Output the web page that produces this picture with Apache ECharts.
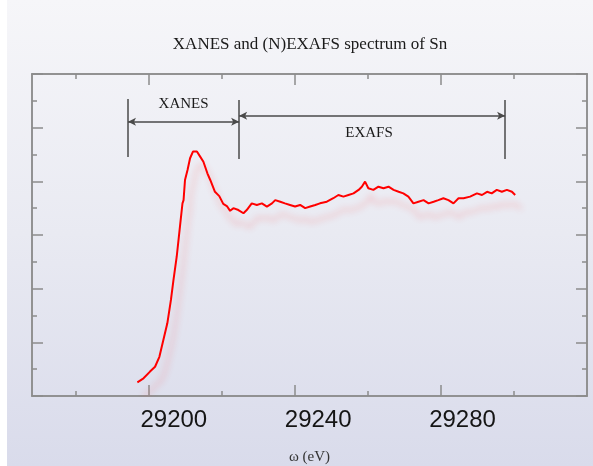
<!DOCTYPE html>
<html>
<head>
<meta charset="utf-8">
<script src="https://cdn.jsdelivr.net/npm/echarts@6/dist/echarts.min.js"></script>
<style>
html,body{margin:0;padding:0;}
#c{width:593px;height:466px;}
</style>
</head>
<body>
<div id="c"></div>
<script>
// ---- data ----
const energy = [29189.9,29191.6,29193.4,29194.8,29196.0,29197.1,29198.2,29199.2,29199.9,29200.8,29201.7,29202.4,29202.7,29203.1,29203.8,29204.5,29205.3,29206.4,29207.3,29208.2,29209.3,29210.1,29211.4,29212.6,29213.7,29214.7,29215.6,29216.5,29217.9,29219.3,29220.2,29221.6,29223.0,29224.4,29225.8,29227.2,29228.1,29229.5,29230.8,29232.2,29233.6,29235.0,29236.4,29237.8,29239.2,29240.5,29242.4,29244.2,29245.6,29247.0,29248.4,29249.8,29251.2,29252.1,29253.0,29253.9,29255.3,29256.7,29258.1,29259.5,29260.9,29262.3,29263.6,29265.0,29266.4,29267.8,29269.2,29270.6,29272.0,29273.3,29274.7,29276.1,29277.5,29278.9,29280.3,29282.1,29284.0,29285.4,29286.8,29288.1,29289.5,29290.9,29292.3,29293.7,29294.6];
const absorption = [0.51,0.66,0.91,1.09,1.46,2.09,2.71,3.58,4.32,5.19,6.31,7.18,7.30,8.05,8.42,8.86,9.11,9.11,8.92,8.73,8.30,8.05,7.61,7.45,7.16,7.08,6.90,7.00,6.93,6.81,6.93,7.18,7.12,7.18,7.06,7.18,7.30,7.24,7.18,7.12,7.06,7.12,7.00,7.06,7.12,7.18,7.24,7.37,7.49,7.43,7.49,7.55,7.68,7.80,7.99,7.74,7.68,7.80,7.74,7.80,7.68,7.61,7.55,7.43,7.18,7.24,7.30,7.18,7.24,7.30,7.37,7.30,7.18,7.37,7.37,7.43,7.55,7.49,7.61,7.55,7.68,7.61,7.68,7.61,7.49];
const xTickLabels = [29200, 29240, 29280];
const xMajorTicks = [29193.1, 29233.5, 29274.0];
const xMinorTicks = [29172.9, 29213.3, 29253.8, 29294.2];
const xRange = [29160.7, 29314.5];
const yRange = [0, 12];
// region markers: XANES from 29187.3 to 29218.1, EXAFS from 29218.1 to 29291.8
const regionBounds = [29187.3, 29218.1, 29291.8];
const regionNames = ['XANES', 'EXAFS'];

const seriesData = energy.map((e, i) => [e, absorption[i]]);

const axisGray = '#8c8c8c';
function xAx(pos, ticks, len) {
  return {
    type: 'value', position: pos, min: xRange[0], max: xRange[1],
    axisLine: { show: true, onZero: false, lineStyle: { color: axisGray, width: 1.5 } },
    axisTick: { show: true, inside: true, length: len, customValues: ticks, lineStyle: { color: axisGray, width: 1.5 } },
    axisLabel: { show: false },
    splitLine: { show: false }
  };
}
function yAx(pos, interval, len) {
  return {
    type: 'value', position: pos, min: yRange[0], max: yRange[1], interval: interval,
    axisLine: { show: true, onZero: false, lineStyle: { color: axisGray, width: 1.5 } },
    axisTick: { show: true, inside: true, length: len, lineStyle: { color: axisGray, width: 1.5 } },
    axisLabel: { show: false },
    splitLine: { show: false }
  };
}

const xMain = xAx('bottom', xMajorTicks, 11);
xMain.axisLabel = {
  show: true, customValues: xTickLabels, margin: 12,
  formatter: v => String(v),
  fontFamily: 'Liberation Sans', fontSize: 24, color: '#151515'
};
xMain.name = 'ω (eV)';
xMain.nameLocation = 'middle';
xMain.nameGap = 54;
xMain.nameTextStyle = { fontFamily: 'Liberation Serif', fontSize: 15, color: '#333' };

const chart = echarts.init(document.getElementById('c'));
const lineC = '#4a4a4a';
chart.setOption({
  animation: false,
  backgroundColor: {
    type: 'linear', x: 0, y: 0, x2: 0, y2: 1,
    colorStops: [
      { offset: 0, color: '#f6f6f9' },
      { offset: 0.5, color: '#e9eaf2' },
      { offset: 1, color: '#d9dbeb' }
    ]
  },
  graphic: [{
    type: 'rect', left: 0, top: 0, z: -10, silent: true,
    shape: { width: 7, height: 466 },
    style: { fill: '#ffffff' }
  }],
  title: {
    text: 'XANES and (N)EXAFS spectrum of Sn',
    left: 305, top: 31, textAlign: 'center',
    textStyle: { fontFamily: 'Liberation Serif', fontSize: 17, fontWeight: 'normal', color: '#1a1a1a' }
  },
  grid: { left: 32, right: 6, top: 74, bottom: 70, outerBoundsMode: 'none', containLabel: false },
  xAxis: [xMain, xAx('bottom', xMinorTicks, 5), xAx('top', xMajorTicks, 11), xAx('top', xMinorTicks, 5)],
  yAxis: [yAx('left', 2, 11), yAx('left', 1, 5), yAx('right', 2, 11), yAx('right', 1, 5)],
  series: [
    {
      type: 'line', data: seriesData, showSymbol: false, smooth: false,
      lineStyle: {
        color: '#ff0000', width: 2,
        shadowColor: 'rgba(255,70,70,0.3)', shadowBlur: 6, shadowOffsetX: 6, shadowOffsetY: 14
      },
      z: 5
    },
    {
      type: 'line', data: [], silent: true,
      markLine: {
        silent: true, animation: false,
        label: { show: false },
        lineStyle: { color: lineC, width: 1.5, type: 'solid' },
        data: [
          [{ coord: [regionBounds[0], 11.07], symbol: 'none' }, { coord: [regionBounds[0], 8.91], symbol: 'none' }],
          [{ coord: [regionBounds[1], 11.03], symbol: 'none' }, { coord: [regionBounds[1], 8.83], symbol: 'none' }],
          [{ coord: [regionBounds[2], 11.03], symbol: 'none' }, { coord: [regionBounds[2], 8.83], symbol: 'none' }],
          [{ coord: [regionBounds[0], 10.22], symbol: 'arrow', symbolSize: [6, 8] }, { coord: [regionBounds[1], 10.22], symbol: 'arrow', symbolSize: [6, 8] }],
          [{ coord: [regionBounds[1], 10.44], symbol: 'arrow', symbolSize: [6, 8] }, { coord: [regionBounds[2], 10.44], symbol: 'arrow', symbolSize: [6, 8] }]
        ]
      },
      markPoint: {
        silent: true, symbol: 'circle', symbolSize: 0,
        label: { show: true, fontFamily: 'Liberation Serif', fontSize: 15, color: '#1a1a1a', position: 'inside' },
        data: [
          { coord: [(regionBounds[0] + regionBounds[1]) / 2, 10.88], label: { formatter: regionNames[0] } },
          { coord: [29254.1, 9.80], label: { formatter: regionNames[1] } }
        ]
      }
    }
  ]
});
</script>
</body>
</html>
